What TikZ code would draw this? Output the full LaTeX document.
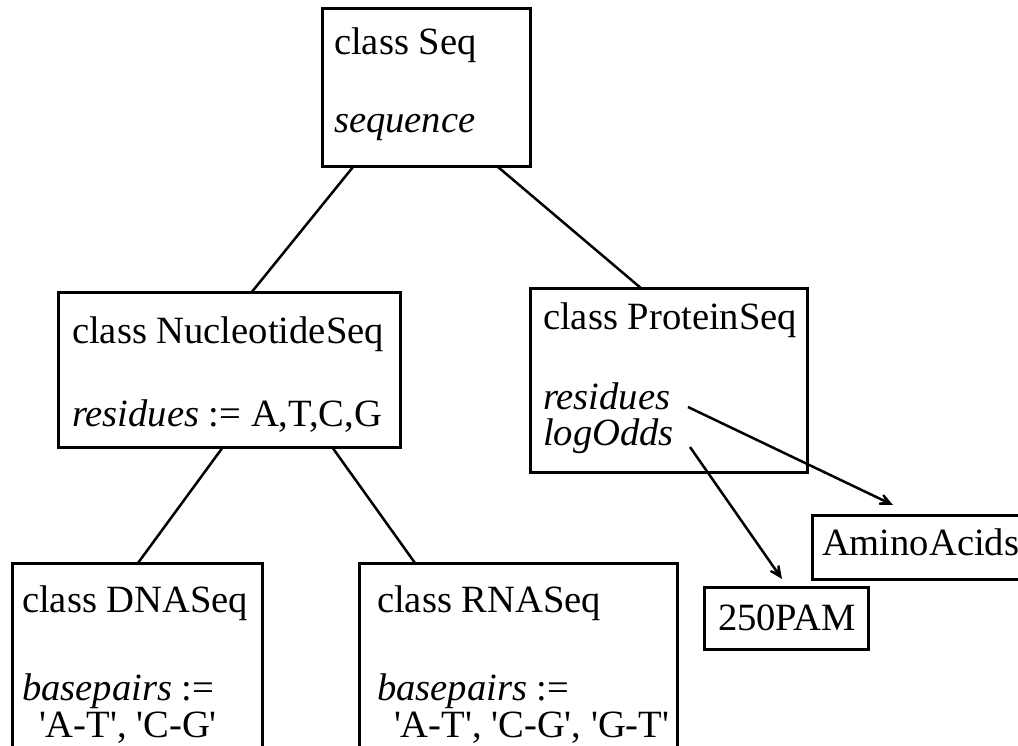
\documentclass[tikz,border=0pt]{standalone}
\usepackage{fontspec}
\setmainfont{Liberation Serif}
\usetikzlibrary{arrows.meta,calc}
\newcommand{\sq}{\textquotesingle}
\begin{document}
\begin{tikzpicture}[x=1pt,y=-1pt,
  box/.style={draw,line width=3pt,rectangle,inner sep=0pt,outer sep=0pt,anchor=north west},
  txt/.style={inner sep=0pt,outer sep=0pt,anchor=base west,font=\fontsize{38.6}{40}\selectfont},
  link/.style={line width=2.5pt},
  ref/.style={line width=2.5pt,-{Stealth[length=22pt,width=20pt,inset=14pt]}}]
\useasboundingbox (0,0) rectangle (1018,746);

% class boxes
\node[box,minimum width=208pt,minimum height=158pt] (seq)   at (322,9)   {};
\node[box,minimum width=342pt,minimum height=154pt] (nuc)   at (58,293)  {};
\node[box,minimum width=277pt,minimum height=183pt] (prot)  at (530,289) {};
\node[box,minimum width=250pt,minimum height=237pt] (dna)   at (12,563)  {};
\node[box,minimum width=318pt,minimum height=237pt] (rna)   at (359,563) {};
\node[box,minimum width=228pt,minimum height=64pt]  (amino) at (812,515) {};
\node[box,minimum width=164pt,minimum height=62pt]  (pam)   at (704,587) {};

% box contents
\node[txt] (seqname) at (334,55)  {class Seq};
\node[txt] (seqattr) at (334,133) {\itshape sequence};

\node[txt] (nucname) at (72,343)  {class NucleotideSeq};
\node[txt] (nucattr) at (72,426)  {\textit{residues} := A,T,C,G};

\node[txt] (protname) at (543,330) {class ProteinSeq};
\node[txt] (protres)  at (543,409) {\itshape residues};
\node[txt] (protlog)  at (543,445) {\itshape logOdds};

\node[txt] (dnaname)  at (22,612)  {class DNASeq};
\node[txt] (dnaattr)  at (22,700)  {\textit{basepairs} :=};
\node[txt] (dnavals)  at (39,737)  {\sq A-T\sq, \sq C-G\sq};

\node[txt] (rnaname)  at (377,612) {class RNASeq};
\node[txt] (rnaattr)  at (377,700) {\textit{basepairs} :=};
\node[txt] (rnavals)  at (394,737) {\sq A-T\sq, \sq C-G\sq, \sq G-T\sq};

\node[txt] (aminoname) at (822,555) {AminoAcids};
\node[txt] (pamname)   at (718,630) {250PAM};

% inheritance links
\draw[link] ([xshift=31pt]seq.south west)  -- ([xshift=193pt]nuc.north west);
\draw[link] ([xshift=176pt]seq.south west) -- ([xshift=112pt]prot.north west);
\draw[link] ([xshift=165pt]nuc.south west) -- ([xshift=126pt]dna.north west);
\draw[link] ([xshift=274pt]nuc.south west) -- ([xshift=56pt]rna.north west);

% attribute references
\coordinate (resTail) at (688,407);
\coordinate (resHead) at (893,505);
\coordinate (logTail) at (690,447);
\coordinate (logHead) at (782,579);
\draw[ref] (resTail) -- (resHead);
\draw[ref] (logTail) -- (logHead);
\end{tikzpicture}
\end{document}
